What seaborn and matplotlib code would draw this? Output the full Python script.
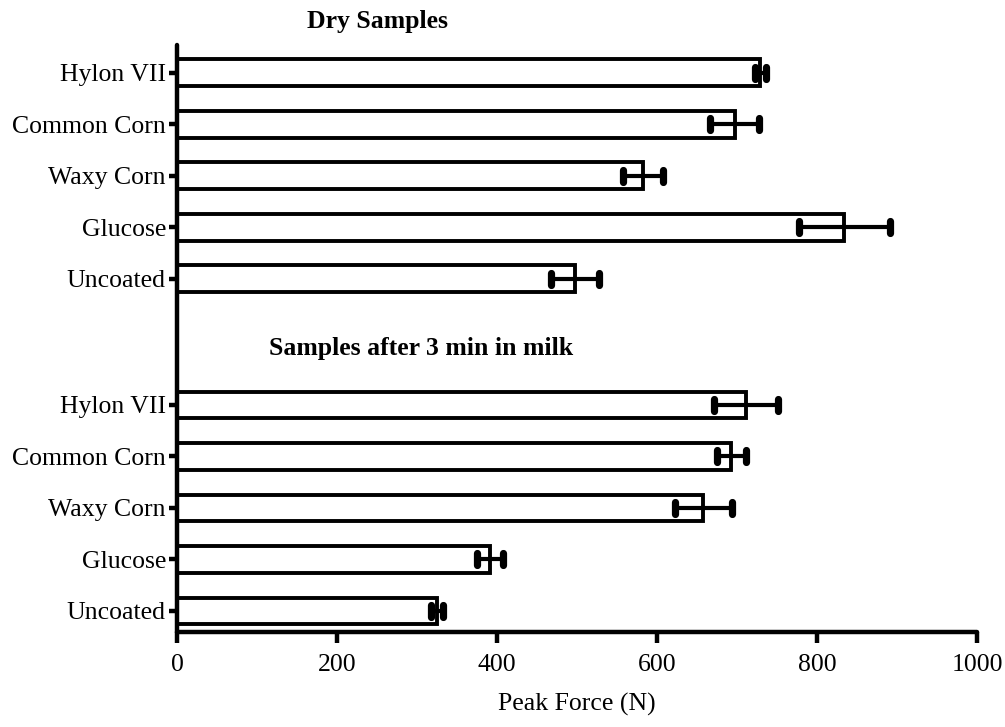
import numpy as np
import pandas as pd
import matplotlib
matplotlib.use("Agg")
import matplotlib.pyplot as plt
from matplotlib.markers import MarkerStyle
import seaborn as sns

# ---- data ----
samples = ["Hylon VII", "Common Corn", "Waxy Corn", "Glucose", "Uncoated"]
dry_force = [729, 697, 583, 834, 497]
dry_err = [7, 31, 25, 57, 30]
milk_force = [711, 693, 658, 391, 325]
milk_err = [40, 18, 36, 16, 8]
xticks = [0, 200, 400, 600, 800, 1000]

sns.set_style("ticks", {"axes.edgecolor": "black", "text.color": "black",
                        "xtick.color": "black", "ytick.color": "black",
                        "axes.labelcolor": "black"})
plt.rcParams["font.family"] = ["Liberation Serif", "DejaVu Serif"]

fig = plt.figure(figsize=(10.05, 7.27), dpi=100)
ax = fig.add_axes([177 / 1005, 1 - 632 / 727, 800 / 1005, (632 - 45) / 727])

dry_pos = np.arange(5, dtype=float)
milk_pos = np.arange(5, dtype=float) + 6.45
df = pd.DataFrame({
    "force": dry_force + milk_force,
    "err": dry_err + milk_err,
    "pos": np.concatenate([dry_pos, milk_pos]),
    "label": samples + samples,
})

sns.barplot(data=df, x="force", y="pos", orient="h", native_scale=True,
            color="white", edgecolor="black", linewidth=2.8, width=0.52,
            errorbar=None, ax=ax)
for p in ax.patches:
    p.set_facecolor("white")
    p.set_edgecolor("black")
    p.set_joinstyle("miter")

eb = ax.errorbar(df["force"], df["pos"], xerr=df["err"], fmt="none",
                 ecolor="black", elinewidth=3.0, capsize=4.2, capthick=5.2, zorder=5)
for cap in eb[1]:
    cap.set_marker(MarkerStyle("|", capstyle="round"))

ax.set_xlim(0, 1000)
ax.set_ylim(10.86, -0.54)
ax.set_xticks(xticks)
ax.set_xticklabels([str(t) for t in xticks], fontsize=18.5)
ax.set_yticks(df["pos"])
ax.set_yticklabels(df["label"], fontsize=18.5)
ax.set_xlabel("Peak Force (N)", fontsize=18.5, labelpad=12)
ax.set_ylabel("")

for s in ["top", "right"]:
    ax.spines[s].set_visible(False)
for s in ["left", "bottom"]:
    ax.spines[s].set_linewidth(3.2)
    ax.spines[s].set_color("black")
    ax.spines[s].set_capstyle("round")
ax.tick_params(axis="x", length=8, width=3.2, pad=8, direction="out", colors="black")
ax.tick_params(axis="y", length=6, width=3.2, pad=2, direction="out", colors="black")

ax.text(251, -0.99, "Dry Samples", ha="center", va="center", color="black",
        fontsize=18.5, fontweight="bold", clip_on=False)
ax.text(305, 5.36, "Samples after 3 min in milk", ha="center", va="center",
        color="black", fontsize=18.5, fontweight="bold")

fig.savefig("out.png", dpi=100, facecolor="white")
